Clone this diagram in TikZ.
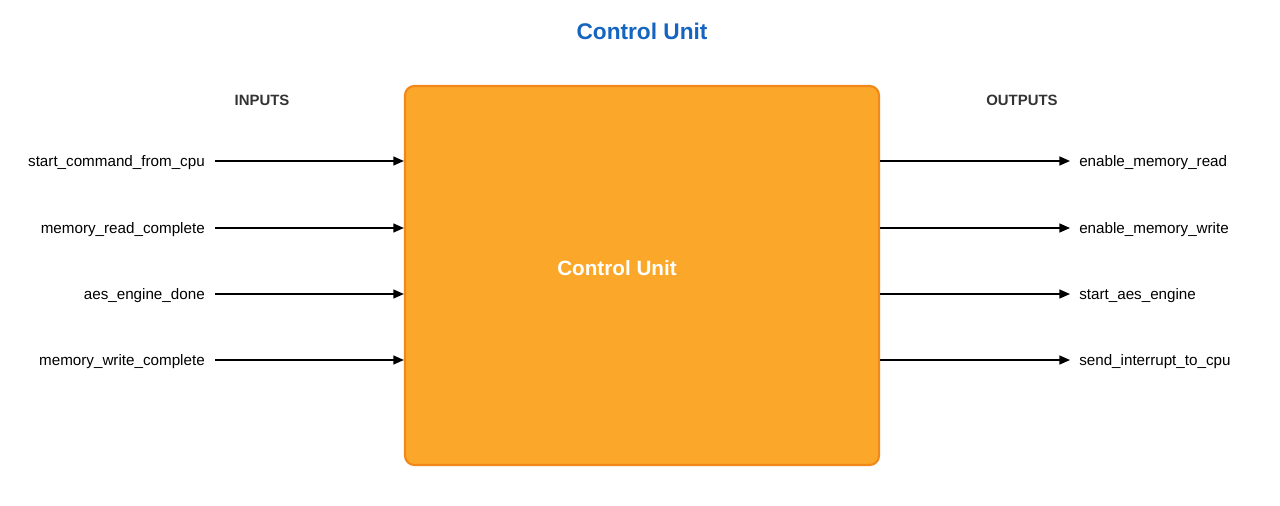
\documentclass[tikz,border=0pt]{standalone}
\usepackage{fontspec}
\setmainfont{Liberation Sans}
\usetikzlibrary{arrows.meta}
\definecolor{boxfill}{HTML}{FBA82A}
\definecolor{boxline}{HTML}{F0891A}
\definecolor{titleblue}{HTML}{1565C0}
\definecolor{headgray}{HTML}{333333}
\begin{document}
\begin{tikzpicture}[x=0.75pt,y=-0.75pt,
  sig/.style={font=\fontsize{11.4}{13}\selectfont, text=black, inner sep=0pt},
  head/.style={font=\bfseries\fontsize{11.2}{13}\selectfont, text=headgray, inner sep=0pt},
  wire/.style={line width=1.1pt, -{Triangle[length=8pt,width=6.75pt]}},
  unit/.style={draw=boxline, fill=boxfill, line width=1.6pt, rounded corners=7pt, inner sep=0pt}]
\useasboundingbox (0,0) rectangle (1280,506);
\node[font=\bfseries\fontsize{17}{20}\selectfont, text=titleblue, inner sep=0pt] (title) at (642,31) {Control Unit};
\node[unit, minimum width=474*0.75pt, minimum height=379*0.75pt] (box) at (642,275.5) {};
\node[font=\bfseries\fontsize{15.5}{18}\selectfont, text=white, inner sep=0pt] (boxlabel) at (617,268) {Control Unit};
\node[head] (inh) at (262,100) {INPUTS};
\node[head] (outh) at (1022,100) {OUTPUTS};
% inputs
\node[sig, anchor=east] (i1) at (205,163) {start\_command\_from\_cpu};
\node[sig, anchor=east] (i2) at (205,230) {memory\_read\_complete};
\node[sig, anchor=east] (i3) at (205,296) {aes\_engine\_done};
\node[sig, anchor=east] (i4) at (205,362) {memory\_write\_complete};
% outputs
\node[sig, anchor=west] (o1) at (1079,163) {enable\_memory\_read};
\node[sig, anchor=west] (o2) at (1079,230) {enable\_memory\_write};
\node[sig, anchor=west] (o3) at (1079,296) {start\_aes\_engine};
\node[sig, anchor=west] (o4) at (1079,362) {send\_interrupt\_to\_cpu};
\foreach \n in {1,2,3,4}{
  \draw[wire, shorten <=7.5pt] ([yshift=1.5pt]i\n.east) -- ([yshift=1.5pt]i\n.east -| box.west);
  \draw[wire, shorten >=6.75pt] ([yshift=1.5pt]o\n.west -| box.east) -- ([yshift=1.5pt]o\n.west);
}
\end{tikzpicture}
\end{document}
